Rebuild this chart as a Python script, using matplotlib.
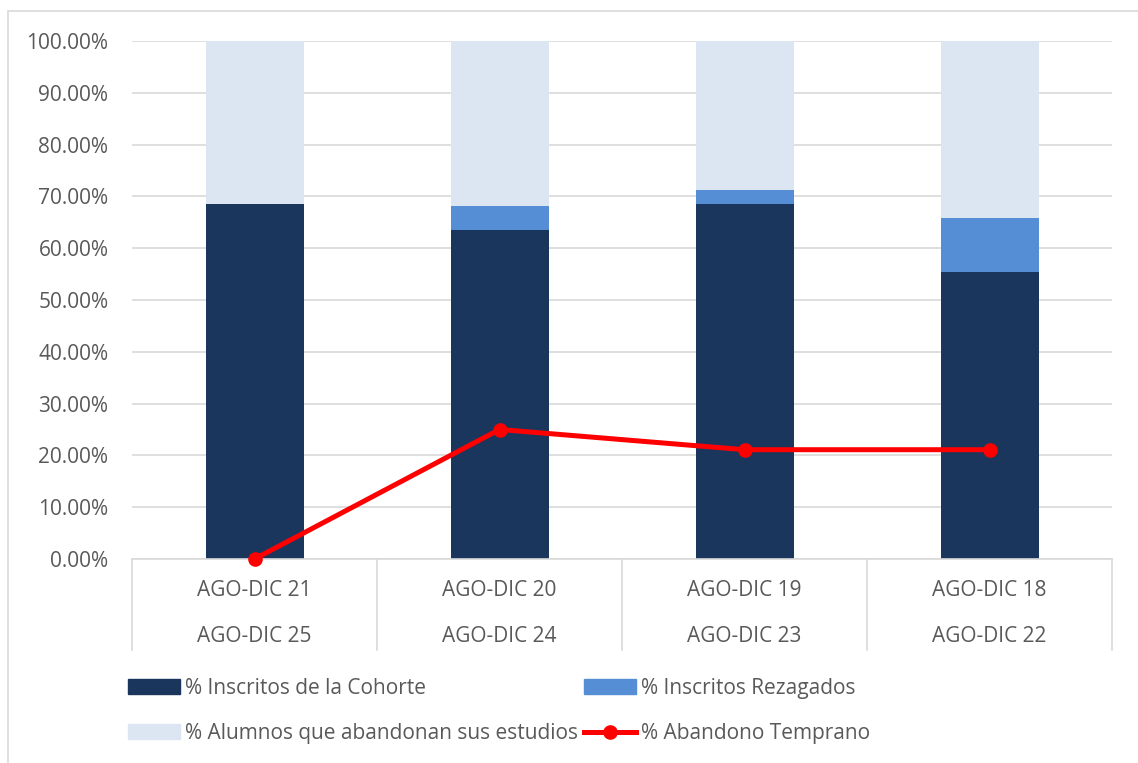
import matplotlib.pyplot as plt
import matplotlib.transforms as mtransforms
from matplotlib.patches import Rectangle, Patch
from matplotlib.lines import Line2D
from matplotlib.ticker import PercentFormatter

plt.rcParams['font.family'] = ['Open Sans', 'DejaVu Sans']

# data
periodo_a = ['AGO-DIC 21', 'AGO-DIC 20', 'AGO-DIC 19', 'AGO-DIC 18']
periodo_b = ['AGO-DIC 25', 'AGO-DIC 24', 'AGO-DIC 23', 'AGO-DIC 22']
cohorte = [0.685, 0.636, 0.685, 0.554]
rezagados = [0.0, 0.046, 0.027, 0.104]
abandonan = [1 - c - r for c, r in zip(cohorte, rezagados)]
abandono_temprano = [0.0, 0.25, 0.211, 0.211]

c_dark = '#1a365d'
c_mid = '#558ed5'
c_light = '#dce6f2'
c_grid = '#d9d9d9'
c_text = '#595959'
fs = 15

W, H = 1138, 763
fig = plt.figure(figsize=(W / 100, H / 100), dpi=100)
fig.patch.set_facecolor('white')
fig.patches.append(Rectangle((8 / W, -0.05), 1.2, 1 - 11 / H + 0.05, transform=fig.transFigure,
                             fill=False, edgecolor=c_grid, lw=1.2))

ax = fig.add_axes([132 / W, 1 - 559 / H, 980 / W, 518 / H])
x = list(range(len(periodo_a)))
bottom2 = cohorte
bottom3 = [c + r for c, r in zip(cohorte, rezagados)]
ax.bar(x, cohorte, width=0.4, color=c_dark, zorder=2)
ax.bar(x, rezagados, width=0.4, bottom=bottom2, color=c_mid, zorder=2)
ax.bar(x, abandonan, width=0.4, bottom=bottom3, color=c_light, zorder=2)
ax.plot(x, abandono_temprano, color='#ff0000', lw=3.6, marker='o', ms=9.5, zorder=3,
        clip_on=False)

ax.set_xlim(-0.5, len(x) - 0.5)
ax.set_ylim(0, 1)
ax.set_yticks([i / 10 for i in range(11)])
ax.yaxis.set_major_formatter(PercentFormatter(1.0, decimals=2))
ax.tick_params(axis='y', length=0, pad=17, labelsize=fs, labelcolor=c_text)
ax.set_xticks([])
ax.grid(axis='y', color=c_grid, lw=1.2, zorder=0)
for s in ['top', 'right', 'left']:
    ax.spines[s].set_visible(False)
ax.spines['bottom'].set_color(c_grid)
ax.spines['bottom'].set_linewidth(1.2)

trans = mtransforms.blended_transform_factory(ax.transData, ax.transAxes)
for i in range(len(x) + 1):
    ax.plot([i - 0.5, i - 0.5], [0, -91 / 518], transform=trans, color=c_grid, lw=1.2,
            clip_on=False)
for i in x:
    ax.text(i, -31 / 518, periodo_a[i], transform=trans, ha='center', va='center',
            fontsize=fs, color=c_text)
    ax.text(i, -77 / 518, periodo_b[i], transform=trans, ha='center', va='center',
            fontsize=fs, color=c_text)

handles = [Patch(color=c_dark), Patch(color=c_light), Patch(color=c_mid),
           Line2D([], [], color='#ff0000', lw=3.6, marker='o', ms=9.5)]
labels = ['% Inscritos de la Cohorte', '% Alumnos que abandonan sus estudios',
          '% Inscritos Rezagados', '% Abandono Temprano']
fig.legend(handles, labels, ncol=2, loc='upper left', bbox_to_anchor=(128 / W, 1 - 678 / H),
           frameon=False, fontsize=fs, labelcolor=c_text, handlelength=2.5,
           handleheight=0.7, handletextpad=0.22, columnspacing=0.3, labelspacing=1.15,
           borderpad=0, borderaxespad=0)

fig.savefig('out.png', dpi=100)
